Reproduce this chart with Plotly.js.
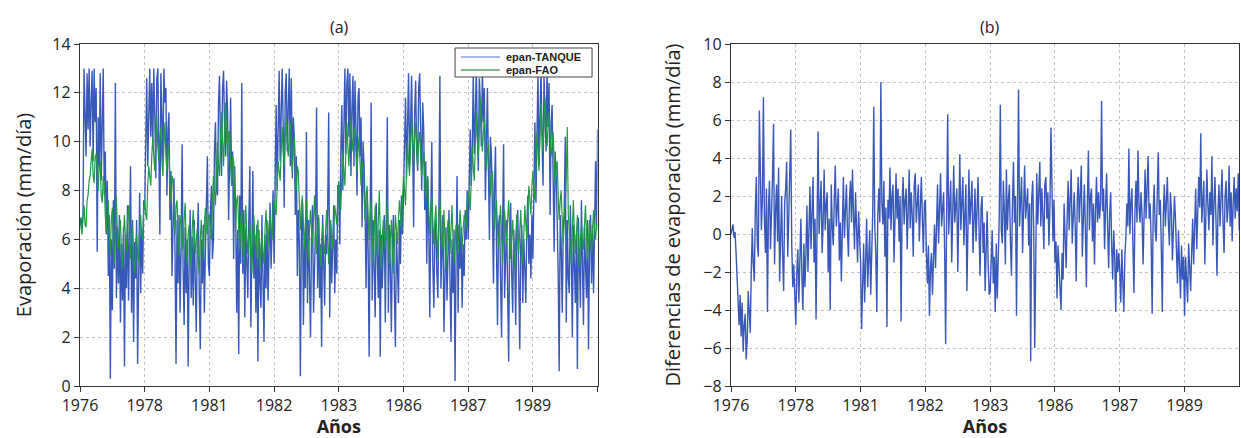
<!DOCTYPE html>
<html><head><meta charset="utf-8">
<script src="https://cdn.plot.ly/plotly-3.0.1.min.js"></script>
<style>html,body{margin:0;padding:0;background:#fff}#chart{width:1241px;height:438px}</style>
</head><body><div id="chart"></div>
<script>
// x tick labels (one per year-interval of the time index)
const yearLabels = ['1976','1978','1981','1982','1983','1986','1987','1989',''];
const samplesPerYear = 64;
const seriesNames = ['epan-TANQUE', 'epan-FAO'];

// epan-TANQUE (mm/día)
const epanTanque = [
6.6,6.9,6.4,7.0,13,10.2,9.4,12.8, 10.5,13,9.8,11.6,12.9,9.2,13,10.8, 12.2,5.5,11.0,9.0,12.8,8.4,10.6,13, 7.8,9.6,6.2,8.4,4.5,7.0,0.3,6.0,
3.1,7.6,4.8,12.4,3.6,6.5,4.2,7.0, 2.6,5.8,3.5,6.5,0.8,6.2,4.0,7.4, 3.5,5.6,9.0,3.0,6.8,1.8,5.9,4.4, 6.8,0.9,5.2,7.9,3.8,6.4,4.6,7.6,
7.2,9.8,12.6,9.0,11.8,13,10.2,12.4, 9.8,13,11.0,8.5,12.6,13,9.6,6.2, 12.8,10.4,9.2,13,11.6,12.2,7.8,10.5, 11.2,6.8,8.8,4.5,7.6,8.5,5.4,0.9,
6.8,4.2,7.0,3.0,5.6,9.9,4.8,2.5, 6.5,3.8,6.0,0.8,5.4,7.2,3.6,6.1, 3.3,6.8,4.4,2.2,6.0,7.5,3.8,1.5, 6.0,4.2,6.6,3.0,5.4,7.0,9.4,5.0,
4.5,7.0,8.2,5.2,6.0,9.6,10.8,8.0, 7.8,11.6,12.7,9.8,8.6,12.2,12.9,10.6, 9.4,12.5,11.2,6.8,10.6,11.8,8.2,9.6, 5.2,9.0,7.0,3.0,6.4,1.3,7.8,5.0,
12.4,4.6,7.2,2.8,6.5,4.6,3.6,6.8, 9.0,2.4,5.8,8.8,4.4,6.2,3.0,6.6, 1.0,6.4,4.2,3.2,7.0,5.0,1.8,6.2, 4.0,6.8,3.5,5.6,7.5,4.8,6.4,8.0,
5.0,8.6,11.5,8.0,10.4,12.9,9.2,11.8, 13,10.6,7.3,12.0,12.8,9.6,11.4,13, 9.0,12.6,8.5,11.0,10.2,7.0,9.4,4.5, 7.2,5.8,0.4,6.4,7.5,2.5,5.8,4.0,
10.4,3.4,6.8,4.6,2.0,6.0,7.4,3.0, 5.2,6.6,11.4,4.0,6.9,3.6,5.8,1.6, 7.0,4.8,3.3,6.2,5.4,7.2,11.2,2.8, 6.6,4.2,5.6,7.4,3.8,6.0,4.6,8.2,
8.2,5.8,9.6,11.5,8.0,10.8,13,9.5, 12.4,13,10.2,12.8,8.6,11.4,12.7,9.0, 12.5,10.6,7.8,11.8,12.2,9.4,11.0,6.5, 10.0,9.0,7.2,4.0,8.0,5.6,1.2,6.6,
11.6,3.5,6.8,4.8,2.8,7.5,5.2,3.6, 6.4,1.2,6.2,4.0,5.6,7.0,2.6,6.0, 11.0,3.0,6.6,4.8,2.2,5.8,7.0,3.8, 1.6,6.3,4.4,3.4,6.8,5.0,7.8,6.2,
7.8,9.4,11.8,8.5,10.6,12.8,9.0,11.4, 12.7,10.0,6.5,11.2,12.5,9.6,8.8,12.2, 12.8,10.4,8.0,11.6,10.5,7.2,9.2,5.0, 8.5,6.4,2.8,7.0,10.0,5.0,3.2,6.2,
6.8,4.6,3.6,7.2,12.7,4.0,6.0,7.0, 2.2,5.6,6.5,3.5,5.0,7.2,4.2,1.8, 6.0,3.8,6.4,0.2,5.4,8.6,3.0,6.6, 4.8,6.5,3.2,5.8,4.5,7.2,6.0,8.0,
6.0,8.4,10.5,8.2,9.6,12.8,9.5,11.0, 13,10.4,8.8,12.6,11.6,9.8,13,10.8, 12.2,7.6,11.0,12.2,9.0,6.0,10.2,9.4, 7.0,4.2,8.2,9.8,5.6,2.5,6.6,7.0,
4.4,2.0,6.4,9.9,3.6,5.8,6.8,4.0, 1.0,6.2,7.5,4.6,3.0,6.4,5.2,2.5, 6.8,7.2,4.0,1.5,5.8,6.6,3.4,6.0, 4.8,3.4,6.6,7.8,5.0,6.2,4.4,7.0,
5.2,8.0,10.8,7.5,9.8,12.8,9.0,11.6, 13,10.2,8.2,12.7,11.4,9.6,13,10.6, 12.4,7.0,10.8,11.5,8.6,5.5,9.6,8.6, 6.8,4.6,0.6,7.0,5.8,3.0,6.4,7.2,
10.2,2.6,6.8,4.4,3.8,7.4,5.6,2.0, 6.6,4.8,3.4,6.2,0.7,6.9,5.0,3.2, 7.6,4.6,2.5,6.5,5.4,3.6,6.8,1.5, 5.6,7.0,4.2,6.6,3.8,7.8,9.2,6.4,
10.5
];

// epan-FAO (mm/día)
const epanFao = [
6.8,6.4,6.2,7.0,7.4,6.6,6.5,7.6, 7.8,8.4,8.6,9.2,9.7,8.6,8.3,9.4, 9.5,8.6,8.0,9.0,9.2,7.8,7.5,8.6, 8.4,7.0,6.3,7.4,7.6,6.0,5.4,6.8,
7.3,5.8,5.0,6.6,7.8,6.2,5.6,6.4, 6.8,5.4,4.8,6.2,7.0,6.0,5.5,6.8, 7.4,6.0,5.2,6.2,6.5,5.0,4.6,5.8, 6.2,5.4,5.0,6.4,7.0,6.2,6.0,7.2,
7.6,7.0,6.8,8.2,9.0,8.6,8.2,9.4, 10.2,9.4,8.8,10.0,11.0,9.8,9.2,10.2, 10.6,9.2,8.6,9.8,10.8,9.4,8.8,9.8, 9.6,8.2,7.5,8.6,8.4,7.0,6.2,7.4,
7.6,6.2,5.3,6.6,7.0,6.0,5.6,6.8, 7.5,6.0,5.0,6.2,6.6,5.4,4.8,6.4, 7.2,6.2,5.4,6.0,6.4,5.2,4.6,6.0, 6.8,5.8,5.2,6.6,7.3,6.6,6.2,7.0,
7.0,6.4,6.0,7.6,8.6,8.0,7.4,8.8, 10.0,9.0,8.6,10.2,11.2,10.0,9.0,10.6, 11.6,10.2,9.4,10.4,10.4,9.0,8.2,9.4, 9.2,7.8,6.6,7.6,7.8,6.4,5.6,6.8,
7.2,6.0,5.0,6.4,7.4,6.2,5.4,6.2, 6.6,5.2,4.6,6.0,7.0,6.0,5.2,6.4, 6.8,5.6,4.8,5.8,6.2,5.4,5.0,6.4, 7.2,6.2,5.6,6.6,7.0,6.4,6.0,7.2,
7.6,7.2,7.0,8.2,9.2,8.8,8.4,9.6, 10.6,9.6,9.0,10.2,11.0,10.0,9.4,10.4, 10.8,9.6,8.8,9.8,10.2,9.0,8.0,9.0, 8.8,7.4,6.4,7.4,7.8,6.6,5.6,6.8,
7.6,6.2,5.2,6.4,7.2,6.4,5.8,6.8, 7.8,6.6,5.4,6.4,7.0,5.8,4.9,6.0, 6.6,5.8,5.4,6.4,7.2,6.0,5.0,6.2, 6.8,6.0,5.6,6.6,7.4,7.0,6.6,7.6,
8.4,7.8,7.2,8.6,9.6,8.8,8.2,9.6, 10.8,9.8,9.0,10.2,11.0,10.2,9.6,10.4, 10.6,9.6,8.8,9.6,10.2,9.2,8.2,9.2, 9.0,7.8,6.8,7.8,8.2,7.0,6.0,7.0,
7.6,6.2,5.0,6.2,7.4,6.4,5.4,6.6, 8.0,6.4,4.8,6.0,6.8,6.2,5.6,6.6, 7.6,6.2,5.0,6.0,6.8,5.6,4.6,5.8, 7.0,6.4,5.8,6.8,7.6,7.0,6.4,7.6,
8.6,8.0,7.4,8.8,10.0,9.2,8.6,9.8, 11.0,10.0,9.2,10.2,10.8,9.8,9.0,10.0, 10.4,9.4,8.6,9.2,9.6,8.4,7.6,8.4, 8.6,7.2,6.2,7.2,7.8,6.6,5.8,6.8,
7.4,6.2,5.2,6.6,7.8,6.6,5.6,6.4, 7.2,5.8,4.8,6.0,6.8,6.0,5.4,6.4, 7.4,6.0,5.0,5.8,6.6,6.0,5.4,6.4, 7.2,6.4,5.6,6.4,7.0,6.8,6.4,7.4,
8.0,7.6,7.2,8.4,9.8,9.0,8.4,9.8, 11.2,10.2,9.4,10.6,11.8,10.6,9.6,10.4, 11.0,9.8,8.8,9.6,10.0,8.8,7.8,8.6, 8.8,7.6,6.4,7.2,7.6,6.4,5.6,6.6,
7.4,6.2,5.0,6.2,7.2,6.4,5.8,6.8, 7.6,6.4,5.2,6.0,6.8,5.8,4.8,6.0, 7.0,6.2,5.4,6.4,7.2,6.0,5.0,6.2, 7.4,6.6,6.0,7.2,8.2,7.6,7.0,8.2,
8.8,8.0,7.6,9.0,10.4,9.6,8.8,10.2, 11.6,10.6,9.6,10.8,11.8,10.8,9.8,10.6, 11.2,10.2,9.4,9.8,10.4,9.2,8.2,9.0, 9.2,7.8,6.8,7.6,8.0,6.8,5.8,6.8,
7.4,8.6,10.6,7.0,6.2,5.6,5.0,6.4, 7.6,6.4,5.4,6.2,7.0,5.8,4.8,6.0, 6.6,6.0,5.6,6.6,7.4,6.2,5.2,6.0, 6.8,6.0,5.4,6.4,7.2,6.4,6.0,6.6,
6.6
];

// Diferencias de evaporación (mm/día)
const diferencias = [
0.0,0.3,0.5,-0.2,0.1,-1.0,-2.5,-3.6, -4.8,-3.2,-5.4,-3.6,-6.2,-4.8,-4.2,-6.6, -5.6,-3.0,-4.6,-5.2,-2.0,0.3,-1.6,-2.5, 1.2,3.0,-0.6,-1.2,6.5,2.2,0.2,1.8,
7.2,0.8,-1.0,2.4,-4.1,1.4,2.8,-0.8, 0.6,3.0,5.8,-1.6,1.2,2.6,-0.4,3.5, -2.5,1.0,2.0,-1.2,-3.0,1.6,2.4,3.8, -1.2,0.8,2.6,5.5,-0.6,-2.8,-1.6,-3.2,
-4.8,-2.0,-0.8,-3.6,-1.4,0.8,-2.2,-4.0, -0.5,-2.8,-1.0,1.5,-2.0,0.6,2.5,-0.8, 1.2,3.0,-1.5,0.8,-4.5,1.6,5.4,0.0, 1.8,2.8,-1.0,0.6,3.4,0.2,1.6,2.2,
-2.0,0.8,-4.0,2.6,0.4,-0.6,1.8,3.6, 0.4,1.2,2.4,-1.4,0.6,-2.5,1.4,3.0, -0.2,2.0,2.6,0.2,-1.2,1.8,2.8,0.6, 3.4,1.0,-0.8,2.2,0.4,-1.5,1.2,-0.6,
-1.5,-5.0,-2.2,-0.5,-3.6,-1.8,0.8,-2.8, -0.6,0.2,-3.2,-1.4,1.2,6.7,0.4,-1.0, -4.1,1.0,2.4,0.6,8.0,1.6,0.5,2.8, -1.2,1.4,-4.9,1.8,0.8,3.5,0.2,2.0,
2.6,-1.5,1.2,3.2,0.8,2.4,-0.4,2.0, -4.6,1.6,3.0,0.5,1.8,2.4,-0.8,1.2, 3.4,0.3,2.2,1.0,-1.2,2.6,3.2,0.6, 1.8,2.6,-0.4,1.4,3.0,0.8,-1.0,1.6,
1.8,-1.0,-2.6,-0.6,-4.3,-1.8,-1.0,-3.2, -0.4,0.5,-1.8,1.0,2.6,-0.5,1.4,3.2, 0.4,1.8,2.2,-0.8,-5.8,1.2,6.3,0.0, 1.6,2.8,-1.5,0.8,3.6,0.6,1.8,2.4,
-2.0,1.2,4.2,0.2,2.2,3.0,-0.6,1.4, 2.6,-3.0,0.8,3.4,0.5,2.0,2.8,-1.0, 1.2,2.4,-0.4,1.6,3.0,0.2,-2.2,1.4, 2.0,-1.0,0.6,-3.0,-0.8,1.2,-1.6,-3.2,
-3.0,-0.6,0.2,-2.6,-1.2,-4.1,-0.5,-3.4, -1.6,1.0,6.8,0.2,-0.5,2.8,1.2,-1.6, 3.4,0.2,1.8,2.6,-0.4,-2.2,1.6,3.8, 0.6,2.0,-4.3,1.2,7.6,0.4,2.2,3.0,
-1.0,1.4,3.6,0.8,2.0,2.4,-0.6,1.6, -6.7,1.8,2.8,0.2,-6.0,1.0,3.2,0.5, 1.8,3.8,0.4,2.4,1.0,-0.8,2.6,3.0, 0.8,2.2,-0.6,1.4,5.6,1.0,-0.4,1.8,
-1.5,-0.4,-3.4,-0.6,-1.8,-2.8,-4.0,-1.0, -2.4,1.6,-0.4,-1.8,0.8,2.8,0.2,1.6, 3.4,-0.5,1.2,2.2,0.4,-2.5,1.8,3.0, 0.6,2.0,3.6,-1.2,1.0,2.6,0.4,-2.8,
1.6,4.4,0.2,2.0,2.4,-0.4,1.6,-1.6, 1.2,3.0,0.6,2.2,0.8,1.6,7.0,1.2, 2.4,-0.8,1.4,3.2,0.4,-1.8,1.0,2.2, -0.6,-2.4,0.2,-1.2,-4.1,-0.8,-2.0,-1.0,
-2.0,-3.6,-0.8,-2.2,-4.1,-1.2,-0.2,1.6, 0.4,4.5,0.0,1.6,2.4,-0.6,-3.1,1.2, 2.8,0.6,4.4,1.4,0.6,2.2,1.0,-1.6, 1.8,3.4,0.8,2.0,4.1,0.8,1.6,-0.4,
-4.2,1.2,2.6,0.2,-0.4,2.0,4.3,1.0, 1.8,-0.6,-4.1,1.0,2.6,0.4,1.6,3.0, 0.6,-0.6,2.2,1.2,-1.4,0.4,2.0,0.8, -0.8,-2.6,0.2,-1.8,-3.4,-0.6,-2.4,-1.2,
-4.3,-1.2,-2.6,-3.6,-0.5,-2.0,-3.0,-1.0, 0.8,-1.6,1.2,2.4,-0.8,0.6,3.0,1.4, 5.3,0.6,1.8,2.8,-1.6,0.8,3.4,1.6, 0.2,2.2,1.0,4.1,-0.6,1.6,3.0,0.8,
-2.2,1.2,2.6,0.4,1.8,3.4,0.6,-1.0, 2.0,2.8,0.6,1.4,3.6,0.4,2.2,-0.4, 1.6,3.0,0.8,2.4,1.2,3.2,0.2,2.0
];

const timeIndex = arr => arr.map((_, i) => i / samplesPerYear);
const tickPositions = yearLabels.map((_, i) => i);

const FONT = '"Open Sans", "Noto Sans", sans-serif';
const LEGFONT = '"Liberation Sans", Arial, sans-serif';
const blue = '#2347b3';
const green = '#1f9a45';

const traces = [
  {x: timeIndex(epanTanque), y: epanTanque, type: 'scatter', mode: 'lines', name: seriesNames[0],
   line: {color: blue, width: 1.4}, opacity: 0.9, xaxis: 'x', yaxis: 'y'},
  {x: timeIndex(epanFao), y: epanFao, type: 'scatter', mode: 'lines', name: seriesNames[1],
   line: {color: green, width: 1.2}, xaxis: 'x', yaxis: 'y'},
  {x: timeIndex(diferencias), y: diferencias, type: 'scatter', mode: 'lines', name: 'diferencias',
   line: {color: blue, width: 1.4}, opacity: 0.9, xaxis: 'x2', yaxis: 'y2'}
];

const axisCommon = {
  showline: true, linecolor: '#333', linewidth: 1.2, mirror: true,
  ticks: 'outside', ticklen: 5, tickcolor: '#333',
  showgrid: true, gridcolor: '#c4c4c4', griddash: 'dot', gridwidth: 1,
  zeroline: false, tickfont: {family: FONT, size: 16, color: '#222'}
};

// custom legend box (paper coordinates) like the original inset legend
const lg = {x0: 0.3236, x1: 0.4418, y0: 0.9035, y1: 0.9883, lineX0: 0.3287, lineX1: 0.3624, textX: 0.3658, rows: [0.962, 0.924]};
const legendColors = ['#8e9fe6', '#5fa36a'];

const layout = {
  width: 1241, height: 438,
  margin: {l: 80, r: 2, t: 44, b: 52},
  paper_bgcolor: '#fff', plot_bgcolor: '#fff',
  font: {family: FONT, color: '#222'},
  showlegend: false,
  xaxis: Object.assign({}, axisCommon, {domain: [0, 0.4466], range: [0, 8],
    tickmode: 'array', tickvals: tickPositions, ticktext: yearLabels, anchor: 'y',
    title: {text: '<b>Años</b>', font: {family: FONT, size: 18}, standoff: 8}}),
  yaxis: Object.assign({}, axisCommon, {domain: [0, 1], range: [0, 14], dtick: 2, anchor: 'x',
    title: {text: 'Evaporación (mm/día)', font: {family: FONT, size: 20}, standoff: 15}}),
  xaxis2: Object.assign({}, axisCommon, {domain: [0.5617, 1.0], range: [0, 7.84],
    tickmode: 'array', tickvals: tickPositions, ticktext: yearLabels, anchor: 'y2',
    title: {text: '<b>Años</b>', font: {family: FONT, size: 18}, standoff: 8}}),
  yaxis2: Object.assign({}, axisCommon, {domain: [0, 1], range: [-8, 10], dtick: 2, anchor: 'x2',
    title: {text: 'Diferencias de evaporación (mm/día)', font: {family: FONT, size: 20}, standoff: 17}}),
  shapes: [
    {type: 'rect', xref: 'paper', yref: 'paper', x0: lg.x0, x1: lg.x1, y0: lg.y0, y1: lg.y1,
     fillcolor: '#fff', line: {color: '#444', width: 1}, layer: 'above'},
    ...seriesNames.map((n, i) => ({type: 'line', xref: 'paper', yref: 'paper',
      x0: lg.lineX0, x1: lg.lineX1, y0: lg.rows[i], y1: lg.rows[i],
      line: {color: legendColors[i], width: 1.5}, layer: 'above'}))
  ],
  annotations: [
    {text: '(a)', xref: 'paper', yref: 'paper', x: 0.2243, y: 1.0497, showarrow: false,
     xanchor: 'center', yanchor: 'middle', font: {family: FONT, size: 16, color: '#222'}},
    {text: '(b)', xref: 'paper', yref: 'paper', x: 0.785, y: 1.0497, showarrow: false,
     xanchor: 'center', yanchor: 'middle', font: {family: FONT, size: 16, color: '#222'}},
    ...seriesNames.map((n, i) => ({text: '<b>' + n + '</b>', xref: 'paper', yref: 'paper',
      x: lg.textX, y: lg.rows[i], xanchor: 'left', yanchor: 'middle', showarrow: false,
      font: {family: LEGFONT, size: 11, color: '#222'}}))
  ]
};

Plotly.newPlot('chart', traces, layout, {displayModeBar: false, staticPlot: true});
</script>
</body></html>
